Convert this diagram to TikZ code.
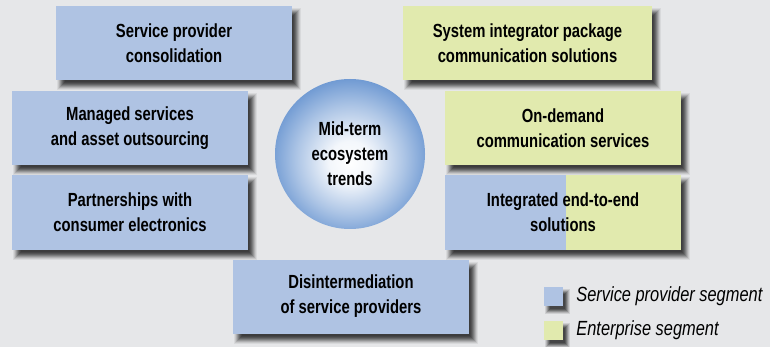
\documentclass[tikz,border=0pt]{standalone}
\usepackage{fontspec}
\setmainfont{Liberation Sans}[FakeStretch=0.8]
\newfontfamily\trendfont{Liberation Sans Bold}[FakeStretch=0.78]

\definecolor{spblue}{HTML}{AFC3E3}
\definecolor{entgreen}{HTML}{E1EAAE}
\definecolor{bggray}{HTML}{E6E7E9}
\definecolor{ballblue}{HTML}{3A74C2}

\pgfdeclareradialshading{trendball}{\pgfpoint{0bp}{-3bp}}{color(0bp)=(white); color(7bp)=(white!94!ballblue); color(18bp)=(ballblue!42!white); color(28bp)=(ballblue!78!white); color(35bp)=(ballblue); color(50bp)=(ballblue)}

\begin{document}
\begin{tikzpicture}[x=1pt,y=-1pt,
	trend/.style={minimum width=236pt,minimum height=74pt,inner sep=0pt,align=center,
		font=\trendfont\fontsize{19}{25}\selectfont},
	spbox/.style={trend,fill=spblue},
	entbox/.style={trend,fill=entgreen},
	swatch/.style={minimum size=19pt,inner sep=0pt},
	legendtext/.style={anchor=west,inner sep=0pt,font=\itshape\fontsize{20.5}{22}\selectfont}]
	
	\fill [bggray] (0,0) rectangle (770,347);
	\useasboundingbox (0,0) rectangle (770,347);
	
	% soft shadows, outer ring first
	\foreach \d/\k in {-4/6,-3/14,-2/24,-1/35,0/46,1/56,2/64,3/70,4/74}
		\foreach \cx/\cy/\w in {174/43/236,130/128/236,130/212.5/236,351/296.5/236,527.5/43/249,563/128/236,563/212.5/236}
			\fill [black!\k!bggray] (\cx-\w/2+5+\d,\cy-37+6+\d) rectangle (\cx+\w/2+5-\d,\cy+37+6-\d);
	\foreach \d/\k in {-3/10,-2/22,-1/36,0/50,1/62,2/70}
		\foreach \cy in {296.5,330.5}
			\fill [black!\k!bggray] (544+4+\d,\cy-9.5+5+\d) rectangle (563+4-\d,\cy+9.5+5-\d);
	
	% service provider side
	\node [spbox] (consol) at (174,43) {Service provider\\consolidation};
	\node [spbox] (managed) at (130,128) {Managed services\\and asset outsourcing};
	\node [spbox] (partner) at (130,212.5) {Partnerships with\\consumer electronics};
	\node [spbox] (disint) at (351,296.5) {Disintermediation\\of service providers};
	
	% enterprise side
	\node [entbox, minimum width=249pt] (sysint) at (527.5,43) {System integrator package\\communication solutions};
	\node [entbox] (ondemand) at (563,128) {On-demand\\communication services};
	\node [entbox, path picture={\fill [spblue] (path picture bounding box.south west) rectangle ([xshift=121pt]path picture bounding box.north west);}] (integ) at (563,212.5) {Integrated end-to-end\\solutions};
	
	% centre
	\node [circle, minimum size=150pt, inner sep=0pt, shading=trendball, align=center,
		font=\trendfont\fontsize{19}{25}\selectfont] (trends) at (350,154) {Mid-term\\ecosystem\\trends};
	
	% legend
	\node [swatch, fill=spblue] (spkey) at (553.5,296.5) {};
	\node [swatch, fill=entgreen] (entkey) at (553.5,330.5) {};
	\node [legendtext] at ([xshift=13pt]spkey.east) {Service provider segment};
	\node [legendtext] at ([xshift=13pt]entkey.east) {Enterprise segment};
	
\end{tikzpicture}
\end{document}
